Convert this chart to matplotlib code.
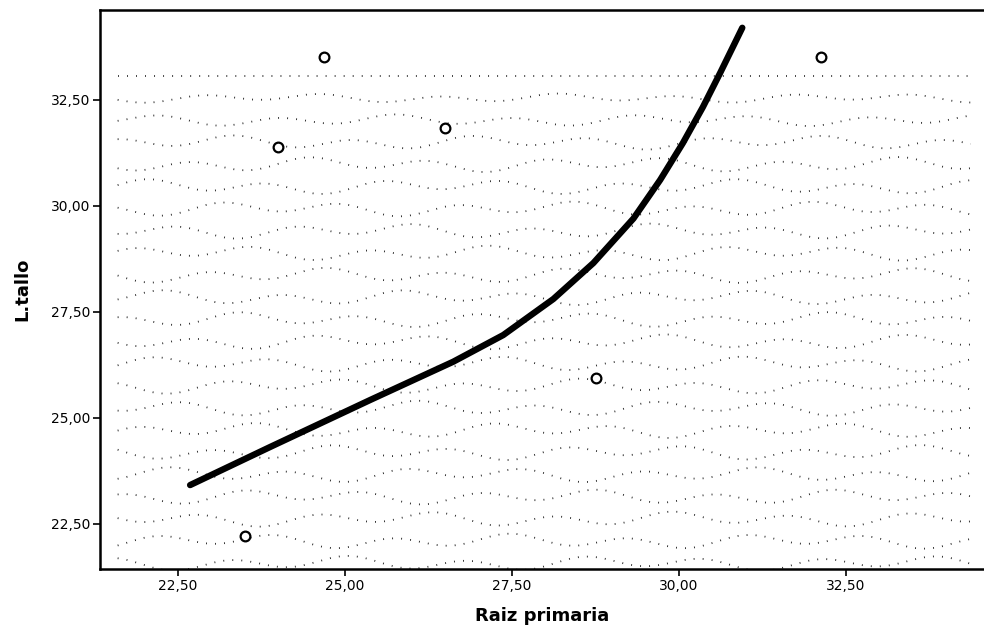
import numpy as np
import matplotlib
matplotlib.use("Agg")
import matplotlib.pyplot as plt

# observed values
raiz_primaria = [23.50, 24.00, 24.69, 26.50, 28.76, 32.13]
l_tallo = [22.21, 31.39, 33.52, 31.84, 25.94, 33.52]

# fitted curve, read at points along the line
fit_x = [22.68, 23.88, 25.38, 26.62, 27.37, 28.12, 28.72, 29.32, 29.72, 30.06, 30.36, 30.62, 30.95]
fit_y = [23.41, 24.31, 25.42, 26.32, 26.95, 27.80, 28.65, 29.70, 30.61, 31.48, 32.33, 33.14, 34.20]

ticks = [22.5, 25.0, 27.5, 30.0, 32.5]
tick_labels = ["22,50", "25,00", "27,50", "30,00", "32,50"]

plt.rcParams["font.family"] = ["DejaVu Sans"]

fig = plt.figure(figsize=(9.84, 6.32), dpi=100)
ax = fig.add_axes([0.1016, 0.0997, 0.8984, 0.8845])

# dotted wavy background texture (drawn in axes fraction)
u = np.linspace(0.02, 0.985, 600)
row_tops = np.linspace(0.882, 0.01, 23)
for i, v in enumerate(row_tops):
    amp = 0.0 if i == 0 else min(0.004 + 0.0015 * i, 0.009)
    wave = amp * np.sin(2 * np.pi * (u * 7.5 + 0.37 * i)) + 0.5 * amp * np.sin(2 * np.pi * (u * 3.1 + 0.61 * i))
    ax.plot(u, v + wave, transform=ax.transAxes, color="#222222",
            linestyle=(0, (0.5, 4.5)), linewidth=1.3, zorder=0)

ax.plot(fit_x, fit_y, color="black", linewidth=4.6, solid_capstyle="round",
        solid_joinstyle="round", zorder=3)
ax.plot(raiz_primaria, l_tallo, linestyle="none", marker="o", markersize=7,
        markerfacecolor="white", markeredgecolor="black", markeredgewidth=1.6, zorder=4)

ax.set_xlim(21.33, 34.57)
ax.set_ylim(21.43, 34.62)
ax.set_xticks(ticks)
ax.set_xticklabels(tick_labels)
ax.set_yticks(ticks)
ax.set_yticklabels(tick_labels)
ax.tick_params(direction="out", length=5, width=1.2, labelsize=10, color="black", pad=2)

for side in ["left", "top", "bottom"]:
    ax.spines[side].set_linewidth(1.8)
ax.spines["right"].set_visible(False)

ax.set_xlabel("Raiz primaria", fontsize=13, fontweight="bold", labelpad=10)
ax.set_ylabel("L.tallo", fontsize=13, fontweight="bold", labelpad=14)

fig.savefig("out.png", dpi=100)
